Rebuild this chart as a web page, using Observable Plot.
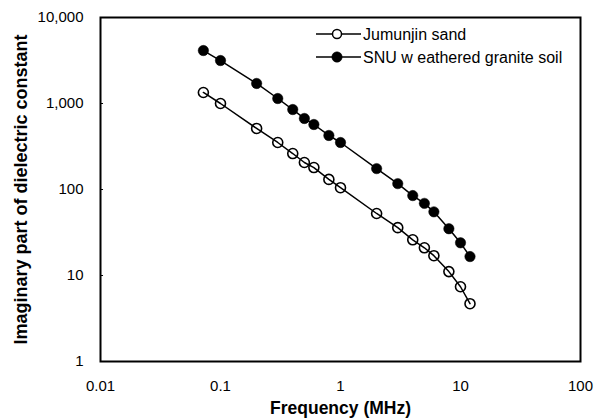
<!DOCTYPE html>
<html>
<head>
<meta charset="utf-8">
<script src="https://cdn.jsdelivr.net/npm/d3@7"></script>
<script src="https://cdn.jsdelivr.net/npm/@observablehq/plot@0.6"></script>
<style>
  html, body { margin: 0; padding: 0; background: #fff; }
  #chart svg { display: block; }
</style>
</head>
<body>
<div id="chart"></div>
<script>
const frequency = [0.072, 0.1, 0.2, 0.3, 0.4, 0.5, 0.6, 0.8, 1, 2, 3, 4, 5, 6, 8, 10, 12];
const jumunjinSand = [1343, 1000, 513, 352, 262, 206, 180, 131, 105, 52.6, 36, 26, 21, 17, 11.1, 7.4, 4.7];
const snuGraniteSoil = [4130, 3160, 1710, 1143, 851, 670, 570, 425, 352, 175, 117, 85, 69, 55, 35, 24, 16.6];
const xTicks = [0.01, 0.1, 1, 10, 100];
const yTicks = [1, 10, 100, 1000, 10000];
const seriesNames = ["Jumunjin sand", "SNU w eathered granite soil"];
const xLabel = "Frequency (MHz)";
const yLabel = "Imaginary part of dielectric constant";

const sand = frequency.map((f, i) => ({f, v: jumunjinSand[i]}));
const soil = frequency.map((f, i) => ({f, v: snuGraniteSoil[i]}));

const FONT = "Arial, 'Liberation Sans', sans-serif";

const chart = Plot.plot({
  width: 594,
  height: 420,
  marginLeft: 100,
  marginRight: 14,
  marginTop: 17,
  marginBottom: 59,
  style: {fontFamily: FONT, fontSize: "15px", color: "#000", background: "#fff"},
  x: {type: "log", domain: [0.01, 100]},
  y: {type: "log", domain: [1, 10000]},
  marks: [
    Plot.axisX({ticks: xTicks, tickFormat: d => String(d), tickSize: 0, tickPadding: 19, label: null, fontSize: 15}),
    Plot.axisY({ticks: yTicks, tickFormat: d3.format(","), tickSize: 0, tickPadding: 17, label: null, fontSize: 15}),
    Plot.ruleY(yTicks, {y: d => d, x1: 0.01, x2: 0.0106, stroke: "#000", strokeWidth: 1}),
    Plot.line(sand, {x: "f", y: "v", stroke: "#000", strokeWidth: 1.5}),
    Plot.line(soil, {x: "f", y: "v", stroke: "#000", strokeWidth: 1.5}),
    Plot.dot(sand, {x: "f", y: "v", r: 5, stroke: "#000", strokeWidth: 1.6, fill: "none"}),
    Plot.dot(soil, {x: "f", y: "v", r: 5.2, stroke: "#000", strokeWidth: 0.5, fill: "#000"}),
    Plot.frame({stroke: "#000", strokeWidth: 2}),
    Plot.text([xLabel], {frameAnchor: "bottom", dy: 47, lineAnchor: "middle", textAnchor: "middle", fontWeight: "bold", fontSize: 17.5, fill: "#000"}),
    Plot.text([yLabel], {frameAnchor: "left", dx: -79, rotate: -90, lineAnchor: "middle", textAnchor: "middle", fontWeight: "bold", fontSize: 18, fill: "#000"})
  ]
});

// legend inside the frame, top right
const svg = d3.select(chart);
const leg = svg.append("g").attr("font-family", FONT).attr("font-size", 16).attr("text-anchor", "start");
const entries = [
  {name: seriesNames[0], y: 34, filled: false},
  {name: seriesNames[1], y: 57, filled: true}
];
entries.forEach(e => {
  leg.append("line").attr("x1", 316).attr("x2", 361).attr("y1", e.y).attr("y2", e.y)
    .attr("stroke", "#000").attr("stroke-width", 1.5);
  leg.append("circle").attr("cx", 337).attr("cy", e.y).attr("r", e.filled ? 5.2 : 4.5)
    .attr("fill", e.filled ? "#000" : "#fff").attr("stroke", "#000").attr("stroke-width", e.filled ? 0.5 : 1.5);
  leg.append("text").attr("x", 363).attr("y", e.y).attr("dy", "0.35em").attr("text-anchor", "start").attr("fill", "#000").text(e.name);
});

document.getElementById("chart").appendChild(chart);
</script>
</body>
</html>
